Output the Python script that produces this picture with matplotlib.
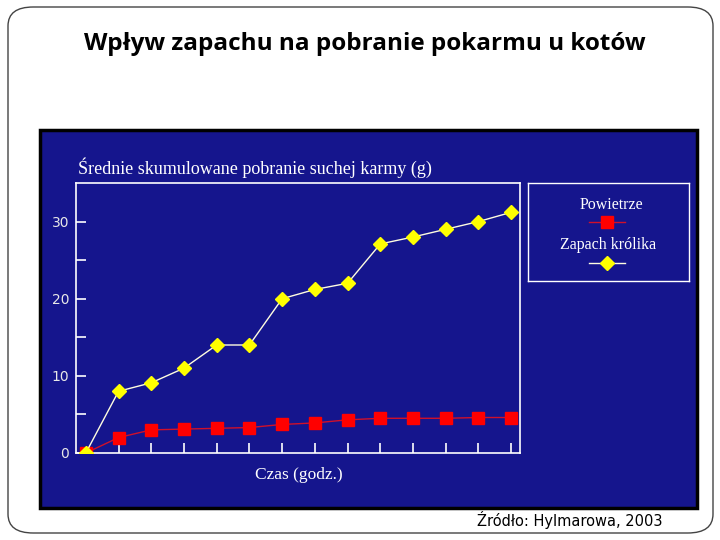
import matplotlib.pyplot as plt
from matplotlib.patches import FancyBboxPatch, Rectangle

# dane
czas = list(range(14))
powietrze = [0, 2.0, 3.0, 3.1, 3.2, 3.3, 3.7, 3.9, 4.3, 4.5, 4.5, 4.5, 4.6, 4.6]
zapach_krolika = [0, 8, 9.1, 11, 14, 14, 20, 21.2, 22, 27.1, 28, 29, 30, 31.2]
y_ticks = [0, 5, 10, 15, 20, 25, 30]
y_labels = ["0", "", "10", "", "20", "", "30"]

blue = "#15158d"

fig = plt.figure(figsize=(7.2, 5.4), dpi=100)

# ramka slajdu z zaokrąglonymi rogami
frame = FancyBboxPatch((8 / 720, 7 / 540), 705 / 720, 526 / 540,
                       boxstyle="round,pad=0,rounding_size=0.035",
                       transform=fig.transFigure, facecolor="white",
                       edgecolor="#444444", linewidth=1.0, zorder=-3)
fig.patches.append(frame)

# niebieskie tło wykresu
panel = Rectangle((40 / 720, 32 / 540), 657 / 720, 378 / 540,
                  transform=fig.transFigure, facecolor=blue,
                  edgecolor="black", linewidth=2.5, zorder=-2)
fig.patches.append(panel)

fig.text(365 / 720, 1 - 44 / 540, "Wpływ zapachu na pobranie pokarmu u kotów",
         ha="center", va="center", fontsize=17.5, fontweight="bold",
         family="Open Sans", color="black")

ax = fig.add_axes([76 / 720, 1 - 453 / 540, 444 / 720, 270 / 540])
ax.set_facecolor(blue)

ax.plot(czas, powietrze, color="#d0102a", linewidth=1.0, marker="s",
        markersize=9, markerfacecolor="#ff0000", markeredgecolor="#ff0000",
        label="Powietrze", zorder=3)
ax.plot(czas, zapach_krolika, color="#fffde0", linewidth=1.0, marker="D",
        markersize=7.5, markerfacecolor="#ffff00", markeredgecolor="#ffff00",
        label="Zapach królika", zorder=4)

ax.set_xlim(-0.3, 13.27)
ax.set_ylim(0, 35)
ax.set_xticks(czas[1:])
ax.set_xticklabels([])
ax.set_yticks(y_ticks)
ax.set_yticklabels(y_labels)

for s in ax.spines.values():
    s.set_color("white")
    s.set_linewidth(1.2)
ax.tick_params(axis="both", colors="white", direction="in", length=7,
               width=1.2, labelsize=10, labelcolor="#e8e8e8", pad=5)

fig.text(78 / 720, 1 - 168 / 540, "Średnie skumulowane pobranie suchej karmy (g)",
         ha="left", va="center", fontsize=13, family="Liberation Serif",
         color="white")
fig.text(299 / 720, 1 - 475 / 540, "Czas (godz.)", ha="center", va="center",
         fontsize=12.5, family="Liberation Serif", color="white")

# legenda
lax = fig.add_axes([528 / 720, 1 - 281 / 540, 161 / 720, 98 / 540])
lax.set_facecolor(blue)
lax.set_xlim(0, 1)
lax.set_ylim(0, 1)
lax.set_xticks([])
lax.set_yticks([])
for s in lax.spines.values():
    s.set_color("white")
    s.set_linewidth(1.0)
lax.text(0.52, 0.78, "Powietrze", ha="center", va="center", fontsize=11.5,
         family="Liberation Serif", color="white")
lax.plot([0.38, 0.6], [0.6, 0.6], color="#d0102a", linewidth=1.0)
lax.plot([0.49], [0.6], marker="s", markersize=9, color="#ff0000")
lax.text(0.5, 0.37, "Zapach królika", ha="center", va="center", fontsize=11.5,
         family="Liberation Serif", color="white")
lax.plot([0.38, 0.6], [0.18, 0.18], color="#fffde0", linewidth=1.0)
lax.plot([0.49], [0.18], marker="D", markersize=7.5, color="#ffff00")

fig.text(477 / 720, 1 - 520 / 540, "Źródło: Hylmarowa, 2003", ha="left",
         va="center", fontsize=10.5, family="DejaVu Sans", color="black")

fig.savefig("out.png", dpi=100)
